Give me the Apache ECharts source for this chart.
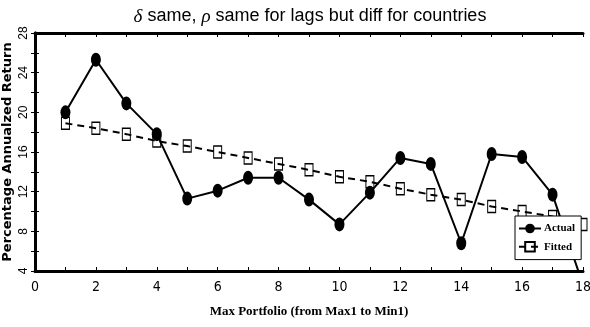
<!DOCTYPE html>
<html>
<head>
<meta charset="utf-8">
<script src="https://cdn.jsdelivr.net/npm/echarts@6/dist/echarts.min.js"></script>
<style>
  html, body { margin: 0; padding: 0; background: #fff; }
  #chart { width: 590px; height: 327px; }
</style>
</head>
<body>
<div id="chart"></div>
<script>
// Portfolio index (1 = Max1 ... 18 = Min1)
const portfolios = [1, 2, 3, 4, 5, 6, 7, 8, 9, 10, 11, 12, 13, 14, 15, 16, 17, 18];
// Percentage annualized returns
const actualReturns = [20.0, 25.3, 20.9, 17.8, 11.3, 12.1, 13.4, 13.4, 11.2, 8.7, 11.9, 15.4, 14.8, 6.8, 15.8, 15.5, 11.7, 2.6];
const fittedReturns = [18.9, 18.4, 17.8, 17.1, 16.6, 16.0, 15.4, 14.8, 14.2, 13.5, 13.0, 12.3, 11.7, 11.2, 10.5, 10.0, 9.5, 8.7];
const xTicks = { min: 0, max: 18, step: 2 };
const yTicks = { min: 4, max: 28, step: 4 };

const toPairs = (xs, ys) => xs.map((x, i) => [x, ys[i]]);

const chart = echarts.init(document.getElementById('chart'), null, { renderer: 'canvas' });

const frameAxis = {
  axisLine: { show: true, lineStyle: { color: '#000', width: 3 } },
  axisTick: { show: true, inside: true, length: 4, lineStyle: { color: '#000', width: 1 } },
  minorTick: { show: true, splitNumber: 2, length: 4, lineStyle: { color: '#000', width: 1 } },
  splitLine: { show: false },
  minorSplitLine: { show: false }
};

chart.setOption({
  animation: false,
  backgroundColor: '#fff',
  title: {
    text: '{g|δ} same, {g|ρ} same for lags but diff for countries',
    left: 305,
    top: 2,
    textAlign: 'center',
    textStyle: {
      fontFamily: 'Liberation Sans, Arial, sans-serif',
      fontSize: 18,
      fontWeight: 'normal',
      color: '#000',
      rich: {
        g: { fontFamily: 'Liberation Serif, serif', fontStyle: 'italic', fontSize: 19, color: '#000' }
      }
    }
  },
  grid: { left: 35, right: 7, top: 33, bottom: 56, containLabel: false, outerBoundsMode: 'none' },
  legend: {
    orient: 'vertical',
    left: 515,
    top: 216,
    width: 62,
    padding: [7, 6, 7, 3],
    itemGap: 7,
    itemWidth: 22,
    itemHeight: 12,
    backgroundColor: '#fff',
    borderColor: '#000',
    borderWidth: 1,
    borderRadius: 0,
    textStyle: {
      fontFamily: 'Liberation Serif, serif',
      fontWeight: 'bold',
      fontSize: 11,
      color: '#000',
      padding: [0, 0, 0, -2]
    },
    data: ['Actual', 'Fitted']
  },
  xAxis: [
    Object.assign({}, frameAxis, {
      type: 'value',
      position: 'bottom',
      min: xTicks.min,
      max: xTicks.max,
      interval: xTicks.step,
      name: 'Max Portfolio (from Max1 to Min1)',
      nameLocation: 'middle',
      nameMoveOverlap: false,
      nameGap: 34,
      nameTextStyle: {
        fontFamily: 'Liberation Serif, serif',
        fontWeight: 'bold',
        fontSize: 13,
        color: '#000'
      },
      axisLabel: {
        show: true,
        margin: 9,
        fontFamily: 'Liberation Sans Narrow, DejaVu Sans Condensed, sans-serif',
        fontSize: 14,
        color: '#000'
      }
    }),
    Object.assign({}, frameAxis, {
      type: 'value',
      position: 'top',
      min: xTicks.min,
      max: xTicks.max,
      interval: xTicks.step,
      axisLabel: { show: false }
    })
  ],
  yAxis: [
    Object.assign({}, frameAxis, {
      type: 'value',
      position: 'left',
      min: yTicks.min,
      max: yTicks.max,
      interval: yTicks.step,
      name: 'Percentage Annualzed Return',
      nameLocation: 'middle',
      nameMoveOverlap: false,
      nameGap: 21,
      nameRotate: 90,
      nameTextStyle: {
        fontFamily: 'DejaVu Sans, sans-serif',
        fontWeight: 'bold',
        fontSize: 13,
        color: '#000'
      },
      axisLabel: {
        show: true,
        rotate: 90,
        margin: 5,
        fontFamily: 'Liberation Sans, Arial, sans-serif',
        fontSize: 12,
        color: '#000'
      }
    }),
    Object.assign({}, frameAxis, {
      type: 'value',
      position: 'right',
      min: yTicks.min,
      max: yTicks.max,
      interval: yTicks.step,
      axisLabel: { show: false }
    })
  ],
  series: [
    {
      name: 'Actual',
      type: 'line',
      xAxisIndex: 0,
      yAxisIndex: 0,
      data: toPairs(portfolios, actualReturns),
      clip: true,
      symbol: 'circle',
      symbolSize: [10, 14],
      showAllSymbol: true,
      lineStyle: { color: '#000', width: 2, type: 'solid' },
      itemStyle: { color: '#000', borderColor: '#000', borderWidth: 0 },
      z: 3
    },
    {
      name: 'Fitted',
      type: 'line',
      xAxisIndex: 0,
      yAxisIndex: 0,
      data: toPairs(portfolios, fittedReturns),
      clip: false,
      symbol: 'rect',
      symbolSize: [8, 12],
      showAllSymbol: true,
      lineStyle: { color: '#000', width: 2, type: [7, 5] },
      itemStyle: { color: 'rgba(255,255,255,0)', borderColor: '#000', borderWidth: 1.2 },
      z: 2
    }
  ]
});
</script>
</body>
</html>
